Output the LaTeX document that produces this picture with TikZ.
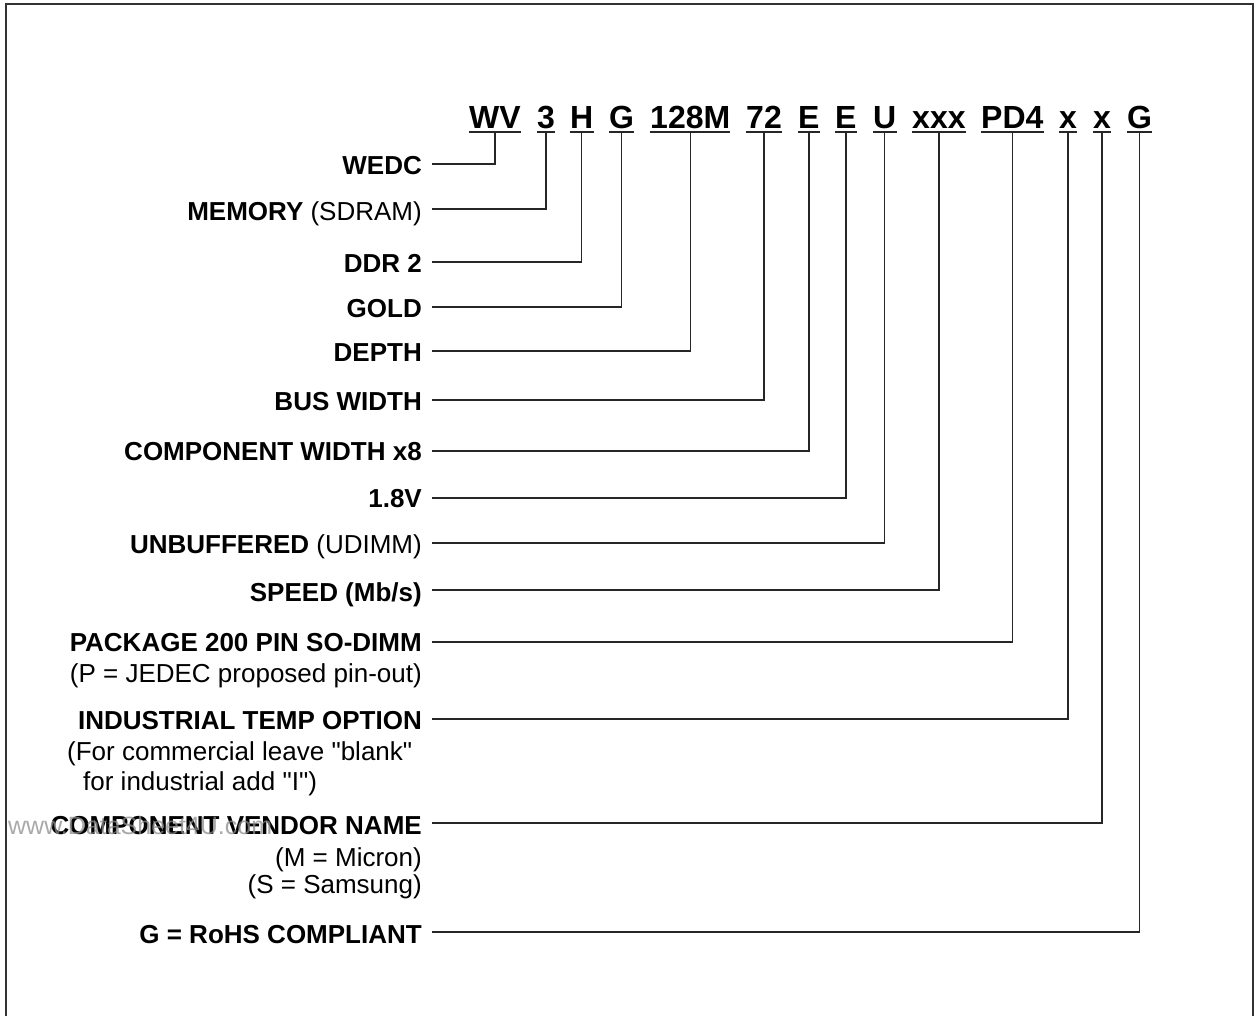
\documentclass[tikz,border=0pt]{standalone}
\usepackage{fontspec}
\setmainfont{Liberation Sans}[Ligatures=TeXOff]
\newcommand\linkit[3]{\draw[conn] ([xshift=10pt,yshift=#3pt]#1.base east) -| ([yshift=-4pt]#2.base);}
\begin{document}
\begin{tikzpicture}[x=1pt,y=-1pt,
  lbl/.style={anchor=base east, inner sep=0pt, font=\fontsize{26}{30}\selectfont\bfseries},
  sub/.style={anchor=base east, inner sep=0pt, font=\fontsize{26}{30}\selectfont},
  subw/.style={anchor=base west, inner sep=0pt, font=\fontsize{26}{30}\selectfont},
  code/.style={anchor=base west, inner sep=0pt, font=\fontsize{32}{36}\selectfont\bfseries},
  uline/.style={line width=1.5pt, black!85},
  conn/.style={line width=1.3pt, black!85},
  frame/.style={line width=2pt, black!80}]
\useasboundingbox (0,0) rectangle (1258,1015);
\draw[frame] (6,1016) -- (6,4) -- (1253,4) -- (1253,1016);

% part number groups
\node[code] (c1) at (469,128) {WV};
\node[code] (c2) at (537,128) {3};
\node[code] (c3) at (570,128) {H};
\node[code] (c4) at (609,128) {G};
\node[code] (c5) at (650,128) {128M};
\node[code] (c6) at (746,128) {72};
\node[code] (c7) at (798,128) {E};
\node[code] (c8) at (835,128) {E};
\node[code] (c9) at (873,128) {U};
\node[code] (c10) at (912,128) {xxx};
\node[code] (c11) at (981,128) {PD4};
\node[code] (c12) at (1059,128) {x};
\node[code] (c13) at (1093,128) {x};
\node[code] (c14) at (1127,128) {G};
\foreach \n in {c1,c2,c3,c4,c5,c6,c7,c8,c9,c10,c11,c12,c13,c14}
  \draw[uline] ([yshift=-4pt]\n.base west) -- ([yshift=-4pt]\n.base east);

% labels
\node[lbl] (l1) at (422,174) {WEDC};
\node[lbl] (l2) at (422,220) {MEMORY \mdseries(SDRAM)};
\node[lbl] (l3) at (422,272) {DDR 2};
\node[lbl] (l4) at (422,317) {GOLD};
\node[lbl] (l5) at (422,361) {DEPTH};
\node[lbl] (l6) at (422,410) {BUS WIDTH};
\node[lbl] (l7) at (422,460) {COMPONENT WIDTH x8};
\node[lbl] (l8) at (422,507) {1.8V};
\node[lbl] (l9) at (422,553) {UNBUFFERED \mdseries(UDIMM)};
\node[lbl] (l10) at (422,601) {SPEED (Mb/s)};
\node[lbl] (l11) at (422,651) {PACKAGE 200 PIN SO-DIMM};
\node[sub] (l11a) at (422,682) {(P = JEDEC proposed pin-out)};
\node[lbl] (l12) at (422,729) {INDUSTRIAL TEMP OPTION};
\node[subw] (l12a) at (67,760) {(For commercial leave "blank"};
\node[subw] (l12b) at (83,790) {for industrial add "I")};
\node[lbl] (l13) at (422,834) {COMPONENT VENDOR NAME};
\node[sub] (l13a) at (422,866) {(M = Micron)};
\node[sub] (l13b) at (422,893) {(S = Samsung)};
\node[lbl] (l14) at (422,943) {G = RoHS COMPLIANT};

\node[subw, text=black!45, opacity=0.75, font=\fontsize{25}{30}\selectfont] (wm) at (8,834) {www.DataSheet4U.com};

% connectors
\linkit{l1}{c1}{10}
\linkit{l2}{c2}{11}
\linkit{l3}{c3}{10}
\linkit{l4}{c4}{10}
\linkit{l5}{c5}{10}
\linkit{l6}{c6}{10}
\linkit{l7}{c7}{9}
\linkit{l8}{c8}{9}
\linkit{l9}{c9}{10}
\linkit{l10}{c10}{11}
\linkit{l11}{c11}{9}
\linkit{l12}{c12}{10}
\linkit{l13}{c13}{11}
\linkit{l14}{c14}{11}
\end{tikzpicture}
\end{document}
